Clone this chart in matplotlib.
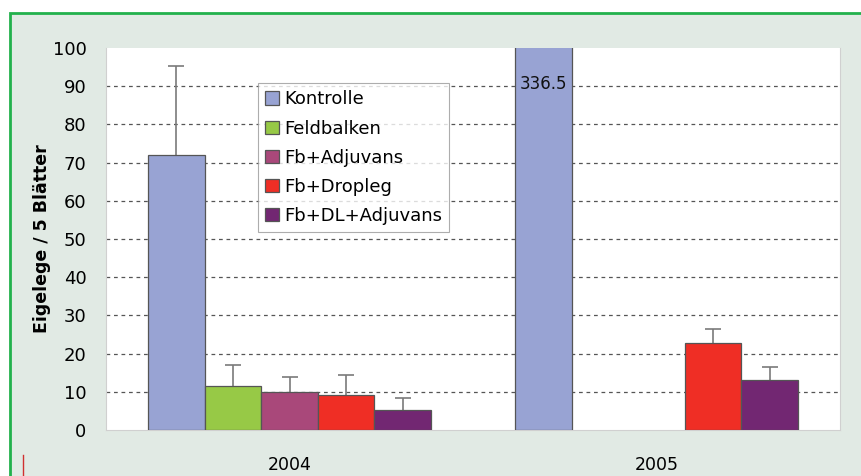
import matplotlib.pyplot as plt
import numpy as np
from matplotlib.patches import Rectangle
from matplotlib.lines import Line2D

years = ["2004", "2005"]
treatments = ["Kontrolle", "Feldbalken", "Fb+Adjuvans", "Fb+Dropleg", "Fb+DL+Adjuvans"]
colors = ["#98a3d3", "#97c946", "#a9487a", "#ef2e25", "#722772"]

# values per treatment: [2004, 2005]; nan = no bar
kontrolle = [72.0, 336.5]
feldbalken = [11.6, np.nan]
fb_adjuvans = [9.9, np.nan]
fb_dropleg = [9.2, 22.8]
fb_dl_adjuvans = [5.2, 13.0]

kontrolle_err = [23.2, 0]
feldbalken_err = [5.4, 0]
fb_adjuvans_err = [4.1, 0]
fb_dropleg_err = [5.1, 3.7]
fb_dl_adjuvans_err = [3.3, 3.6]

values = [kontrolle, feldbalken, fb_adjuvans, fb_dropleg, fb_dl_adjuvans]
errors = [kontrolle_err, feldbalken_err, fb_adjuvans_err, fb_dropleg_err, fb_dl_adjuvans_err]

fig = plt.figure(figsize=(8.61, 4.76), dpi=100)
fig.patch.set_facecolor("white")

# green frame with light background, cut off at right and bottom
fig.patches.append(Rectangle((10 / 861, -0.05), 1.0, 1 - 13 / 476 + 0.05,
                             transform=fig.transFigure, facecolor="#e1eae4",
                             edgecolor="#22b14c", linewidth=2, zorder=-10))
fig.lines.append(Line2D([23 / 861, 23 / 861], [0, 21 / 476], transform=fig.transFigure,
                        color="#d03030", linewidth=1, zorder=-5))

ax = fig.add_axes([106 / 861, 1 - 430 / 476, 734 / 861, 382 / 476])
ax.set_facecolor("white")

x = np.arange(len(years))
w = 0.154
for i, (name, vals, errs, c) in enumerate(zip(treatments, values, errors, colors)):
    pos = x + (i - 2) * w
    v = np.array(vals, dtype=float)
    e = np.array(errs, dtype=float)
    ax.bar(pos, v, width=w, color=c, edgecolor="#555555", linewidth=0.9, label=name, zorder=3)
    for p, vv, ee in zip(pos, v, e):
        if not np.isnan(vv) and ee > 0:
            ax.vlines(p, vv, vv + ee, color="#7a7a7a", linewidth=1.2, zorder=2)
            ax.plot(p, vv + ee, marker="_", markersize=11, markeredgewidth=1.2,
                    color="#7a7a7a", zorder=2)

ax.text(x[1] - 2 * w, 90.5, "336.5", ha="center", va="center", fontsize=12, color="#111111", zorder=4)

ax.set_ylim(0, 100)
ax.set_xlim(-0.5, 1.5)
ax.set_yticks(range(0, 101, 10))
ax.set_xticks(x)
ax.set_xticklabels(years)
ax.tick_params(axis="y", length=0, pad=14, labelsize=13)
ax.tick_params(axis="x", length=0, pad=19, labelsize=12.5)
for y in range(10, 100, 10):
    ax.axhline(y, color="#555555", linestyle=(0, (3, 3)), linewidth=0.9, zorder=1)

for s in ["top"]:
    ax.spines[s].set_visible(False)
for s in ["left", "right", "bottom"]:
    ax.spines[s].set_color("#d0d0d0")

ax.set_ylabel("Eigelege / 5 Blätter", fontsize=12.5, fontweight="bold", labelpad=1)

leg = ax.legend(loc="upper left", bbox_to_anchor=(0.207, 0.908), borderaxespad=0,
                fontsize=13, frameon=True, fancybox=False, handlelength=0.75,
                handleheight=0.75, handletextpad=0.3, labelspacing=0.62,
                borderpad=0.4)
leg.get_frame().set_edgecolor("#999999")
leg.get_frame().set_linewidth(0.8)

fig.savefig("out.png", dpi=100)
